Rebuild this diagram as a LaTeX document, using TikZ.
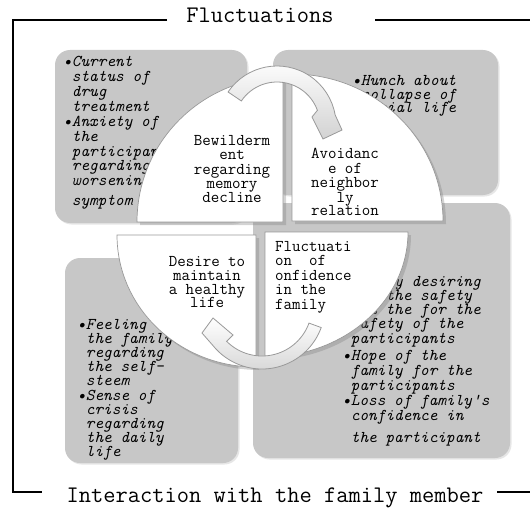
\documentclass[tikz,border=0pt]{standalone}
\usepackage{fontspec}
\usetikzlibrary{shadows,calc}
\tikzset{
  frameline/.style={line width=1.6pt, black},
  graybox/.style={fill=gray!44, rounded corners=15pt,
    drop shadow={shadow xshift=1.5pt, shadow yshift=-1.5pt, opacity=0.2}},
  quad/.style={fill=white, draw=gray!80, line width=0.7pt,
    drop shadow={shadow xshift=3pt, shadow yshift=-3pt, opacity=0.35}},
  cyclearrow/.style={top color=white, bottom color=gray!35, draw=gray!80, line width=0.8pt},
  boxtxt/.style={font=\ttfamily\itshape\fontsize{16.5}{15}\selectfont, inner sep=0pt,
    text height=9.5pt, text depth=3pt, anchor=base west},
  quadtxt/.style={font=\ttfamily\fontsize{16.5}{14}\selectfont, inner sep=0pt,
    text height=9.5pt, text depth=3pt, anchor=base},
  quadtxtl/.style={quadtxt, anchor=base west},
  framelabel/.style={font=\ttfamily\fontsize{23.8}{24}\selectfont, inner sep=0pt, anchor=base},
}
\begin{document}
\begin{tikzpicture}[x=1pt,y=-1pt]
\useasboundingbox (0,0) rectangle (530,508);

% gray boxes
\path[graybox] (55,50) rectangle (247,223);
\path[graybox] (273,50) rectangle (498,195);
\path[graybox] (65,258) rectangle (238,463);
\path[graybox] (253,203) rectangle (510,458);

% gray box texts
\foreach \yy/\mytext [count=\i] in {67/{•Current}, 82/{\phantom{•}status of}, 97/{\phantom{•}drug},
  112/{\phantom{•}treatment}, 127/{•Anxiety of}, 142/{\phantom{•}the}, 157/{\phantom{•}participant},
  171/{\phantom{•}regarding}, 185/{\phantom{•}worsening}, 205/{\phantom{•}symptom}}
  \node[boxtxt] (tl\i) at (63,\yy) {\mytext};
\foreach \yy/\mytext [count=\i] in {86/{•Hunch about}, 99.5/{\phantom{•}collapse of}, 113/{\phantom{•}social life}}
  \node[boxtxt] (tr\i) at (352,\yy) {\mytext};
\foreach \yy/\mytext [count=\i] in {329/{•Feeling}, 343/{\phantom{•}the family}, 357/{\phantom{•}regarding},
  371/{\phantom{•}the self-}, 385/{\phantom{•}steem}, 400/{•Sense of}, 414/{\phantom{•}crisis},
  428/{\phantom{•}regarding}, 442/{\phantom{•}the daily}, 456/{\phantom{•}life}}
  \node[boxtxt] (bl\i) at (77,\yy) {\mytext};
\foreach \yy/\mytext [count=\i] in {286/{•Family desiring}, 300/{\phantom{•}for the safety},
  314/{\phantom{•}and the for the}, 328/{\phantom{•}safety of the}, 343/{\phantom{•}participants},
  360/{•Hope of the}, 375/{\phantom{•}family for the}, 390/{\phantom{•}participants},
  405/{•Loss of family\textquotesingle s}, 420/{\phantom{•}confidence in}, 442/{\phantom{•}the participant}}
  \node[boxtxt] (br\i) at (342,\yy) {\mytext};

% quadrants
\path[quad] (283,222) -- (137,222) arc[start angle=180, end angle=270, x radius=146, y radius=145] -- cycle;
\path[quad] (292,221) -- (292,74) arc[start angle=270, end angle=360, x radius=151, y radius=147] -- cycle;
\path[quad] (256,235) -- (117,235) arc[start angle=180, end angle=90, x radius=139, y radius=132] -- cycle;
\path[quad] (265,232) -- (408,232) arc[start angle=0, end angle=90, x radius=143, y radius=125] -- cycle;

% quadrant texts
\foreach \yy/\mytext [count=\i] in {146/Bewilderm, 160/ent, 174/regarding, 188/memory, 202/decline}
  \node[quadtxt] (qa\i) at (232,\yy) {\mytext};
\foreach \yy/\mytext [count=\i] in {158/Avoidanc, 173/e of, 187/neighbor, 202/ly, 215/relation}
  \node[quadtxt] (qb\i) at (345,\yy) {\mytext};
\foreach \yy/\mytext [count=\i] in {266/Desire to, 280/maintain, 294/a healthy, 307/life}
  \node[quadtxt] (qc\i) at (207,\yy) {\mytext};
\foreach \yy/\mytext [count=\i] in {251/Fluctuati, 265.5/{on\ \ of}, 280/onfidence, 294.5/in the, 309/family}
  \node[quadtxtl] (qd\i) at (275,\yy) {\mytext};

% cycle arrows
\coordinate (ca) at (277,125);
\coordinate (cb) at (262,306);
\path[cyclearrow] ($(ca)+(214:59)$) arc[start angle=214, end angle=350, radius=59]
  -- (342,130) -- (323,139) -- (312,117) -- ($(ca)+(340:43)$)
  arc[start angle=340, end angle=214, radius=43] -- cycle;
\path[cyclearrow] ($(cb)+(20:63)$) arc[start angle=20, end angle=141, radius=63]
  -- (202,333) -- (213,318) -- (233,335) -- ($(cb)+(135:50)$)
  arc[start angle=135, end angle=20, radius=50] -- cycle;

% frame
\draw[frameline] (167,20) -- (13,20) -- (13,492) -- (42,492);
\draw[frameline] (375,20) -- (530,20);
\draw[frameline] (497,492) -- (530,492);
\node[framelabel] (fluct) at (260,23) {Fluctuations};
\node[framelabel] (inter) at (275,502) {Interaction with the family member};
\end{tikzpicture}
\end{document}
